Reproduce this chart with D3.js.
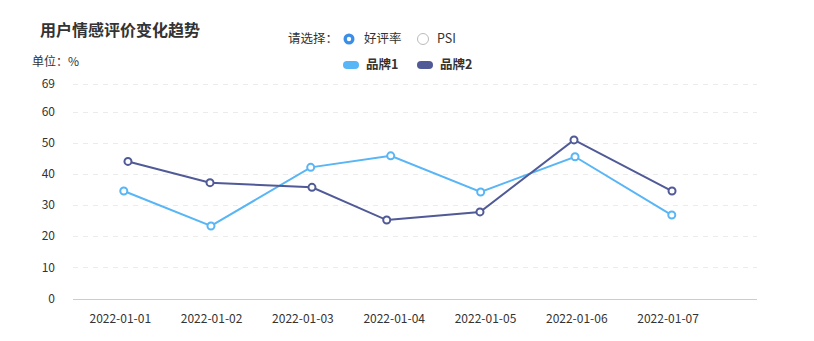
<!DOCTYPE html>
<html><head><meta charset="utf-8">
<script src="https://cdn.jsdelivr.net/npm/d3@7/dist/d3.min.js"></script>
<style>
body{margin:0;background:#fff;}
text{font-family:"Noto Sans CJK SC","Noto Sans",sans-serif;}
</style></head>
<body><svg id="c" width="814" height="341"></svg>
<script>
const categories = ["2022-01-01","2022-01-02","2022-01-03","2022-01-04","2022-01-05","2022-01-06","2022-01-07"];
const brand1Times = ["2022-01-01 00:55","2022-01-01 23:50","2022-01-03 02:03","2022-01-03 23:05","2022-01-04 22:44","2022-01-05 23:32","2022-01-07 00:58"];
const brand1Values = [34.5, 23.3, 42.1, 45.8, 34.2, 45.5, 26.8];
const brand2Times = ["2022-01-01 02:01","2022-01-01 23:35","2022-01-03 02:23","2022-01-03 22:02","2022-01-04 22:33","2022-01-05 23:16","2022-01-07 01:02"];
const brand2Values = [44.0, 37.2, 35.7, 25.2, 27.8, 50.9, 34.5];
const yTicks = [0,10,20,30,40,50,60,69];
const seriesNames = ["品牌1","品牌2"];
const colors = ["#58b5f6","#505a96"];

const parse = d3.timeParse("%Y-%m-%d %H:%M");
const parseDay = d3.timeParse("%Y-%m-%d");
const svg = d3.select("#c");

const x = d3.scaleTime()
  .domain([parseDay(categories[0]), parseDay(categories[categories.length-1])])
  .range([120.3, 668.1]);
const y = d3.scaleLinear().domain([0,69]).range([298.6, 83.5]);
const left = 73, right = 757;

// gridlines
svg.append("g").selectAll("line").data(yTicks.filter(d=>d>0)).join("line")
  .attr("x1", left).attr("x2", right)
  .attr("y1", d=>Math.round(y(d))+0.5).attr("y2", d=>Math.round(y(d))+0.5)
  .attr("stroke","#ebebeb").attr("stroke-dasharray","5,5");
// x axis line
svg.append("line").attr("x1",left).attr("x2",right)
  .attr("y1",Math.round(y(0))+0.5).attr("y2",Math.round(y(0))+0.5)
  .attr("stroke","#cccccc");

// y labels
svg.append("g").selectAll("text").data(yTicks).join("text")
  .attr("x",55).attr("y",d=>y(d)).attr("dy","0.35em")
  .attr("text-anchor","end").attr("font-size",12).attr("fill","#333")
  .text(d=>d);
// x labels
svg.append("g").selectAll("text").data(categories).join("text")
  .attr("x",d=>x(parseDay(d))).attr("y",319).attr("dy","0.35em")
  .attr("text-anchor","middle").attr("font-size",12).attr("fill","#333")
  .text(d=>d);

// series
const series = [
  {name:seriesNames[0], color:colors[0], pts:brand1Times.map((t,i)=>({t:parse(t), v:brand1Values[i]}))},
  {name:seriesNames[1], color:colors[1], pts:brand2Times.map((t,i)=>({t:parse(t), v:brand2Values[i]}))}
];
const line = d3.line().x(d=>x(d.t)).y(d=>y(d.v));
series.forEach(s=>{
  svg.append("path").datum(s.pts).attr("d",line)
    .attr("fill","none").attr("stroke",s.color).attr("stroke-width",2);
  svg.append("g").selectAll("circle").data(s.pts).join("circle")
    .attr("cx",d=>x(d.t)).attr("cy",d=>y(d.v)).attr("r",3.5)
    .attr("fill","#fff").attr("stroke",s.color).attr("stroke-width",2);
});

// title & unit
svg.append("text").attr("x",40).attr("y",30).attr("dy","0.35em")
  .attr("font-size",16).attr("font-weight","bold").attr("fill","#333")
  .text("用户情感评价变化趋势");
svg.append("text").attr("x",32).attr("y",62).attr("dy","0.35em")
  .attr("font-size",12).attr("fill","#333").text("单位：%");

// radio selector
svg.append("text").attr("x",288).attr("y",39).attr("dy","0.35em")
  .attr("font-size",12.5).attr("fill","#333").text("请选择：");
svg.append("circle").attr("cx",349).attr("cy",39).attr("r",5.5).attr("fill","#3a8ee6");
svg.append("circle").attr("cx",349).attr("cy",39).attr("r",2.2).attr("fill","#fff");
svg.append("text").attr("x",364).attr("y",39).attr("dy","0.35em")
  .attr("font-size",12.5).attr("fill","#333").text("好评率");
svg.append("circle").attr("cx",423).attr("cy",39).attr("r",5.5)
  .attr("fill","#fff").attr("stroke","#bbb").attr("stroke-width",1);
svg.append("text").attr("x",437).attr("y",39).attr("dy","0.35em")
  .attr("font-size",12.5).attr("fill","#333").text("PSI");

// legend
const legX = [343, 417];
series.forEach((s,i)=>{
  svg.append("rect").attr("x",legX[i]).attr("y",61).attr("width",16).attr("height",8)
    .attr("rx",4).attr("fill",s.color);
  svg.append("text").attr("x",legX[i]+23).attr("y",65).attr("dy","0.35em")
    .attr("font-size",12.5).attr("font-weight","bold").attr("fill","#333").text(s.name);
});
</script></body></html>
